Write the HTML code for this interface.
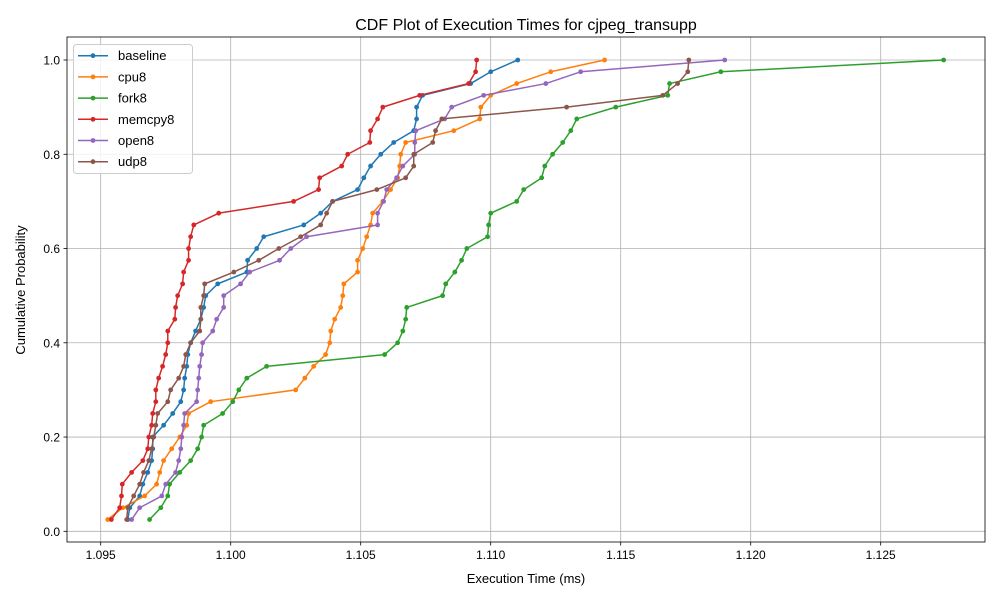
<!DOCTYPE html>
<html><head><meta charset="utf-8"><style>
body{margin:0;background:#fff}
svg{font-family:"Liberation Sans","DejaVu Sans",sans-serif}
</style></head><body>
<svg id="chart" width="1000" height="600" viewBox="0 0 1000 600">
<rect width="1000" height="600" fill="#fff"/>
<text x="526" y="30" text-anchor="middle" font-size="16" fill="#000">CDF Plot of Execution Times for cjpeg_transupp</text>
<text x="526" y="583" text-anchor="middle" font-size="13" fill="#000">Execution Time (ms)</text>
<text x="25" y="290" text-anchor="middle" font-size="13" fill="#000" transform="rotate(-90 25 290)">Cumulative Probability</text>
<g id="grid"></g><g id="series"></g><g id="axes"></g><g id="legend"></g>
</svg>
<script>
const seriesNames = ["baseline","cpu8","fork8","memcpy8","open8","udp8"];
const seriesColors = ["#1f77b4","#ff7f0e","#2ca02c","#d62728","#9467bd","#8c564b"];
const probs = [0.025,0.05,0.075,0.1,0.125,0.15,0.175,0.2,0.225,0.25,0.275,0.3,0.325,0.35,0.375,0.4,0.425,0.45,0.475,0.5,0.525,0.55,0.575,0.6,0.625,0.65,0.675,0.7,0.725,0.75,0.775,0.8,0.825,0.85,0.875,0.9,0.925,0.95,0.975,1.0];
const baseline = [1.09604,1.09612,1.09650,1.09662,1.09681,1.09696,1.09700,1.09700,1.09742,1.09777,1.09808,1.09819,1.09823,1.09831,1.09835,1.09846,1.09865,1.09885,1.09896,1.09904,1.09950,1.10062,1.10065,1.10100,1.10127,1.10281,1.10346,1.10392,1.10488,1.10512,1.10538,1.10577,1.10627,1.10704,1.10715,1.10715,1.10738,1.10923,1.11000,1.11104];
const cpu8 = [1.09527,1.09585,1.09669,1.09715,1.09727,1.09742,1.09773,1.09804,1.09831,1.09838,1.09923,1.10250,1.10285,1.10319,1.10365,1.10381,1.10385,1.10400,1.10423,1.10431,1.10435,1.10488,1.10488,1.10508,1.10523,1.10538,1.10546,1.10585,1.10615,1.10642,1.10650,1.10654,1.10673,1.10858,1.10958,1.10962,1.11000,1.11100,1.11231,1.11438];
const fork8 = [1.09688,1.09731,1.09758,1.09765,1.09804,1.09846,1.09873,1.09888,1.09896,1.09969,1.10008,1.10031,1.10062,1.10138,1.10592,1.10642,1.10662,1.10673,1.10677,1.10815,1.10827,1.10862,1.10888,1.10908,1.10988,1.10992,1.11000,1.11100,1.11127,1.11196,1.11208,1.11238,1.11277,1.11308,1.11331,1.11481,1.11681,1.11688,1.11885,1.12742];
const memcpy8 = [1.09541,1.09573,1.09580,1.09583,1.09619,1.09662,1.09681,1.09685,1.09696,1.09700,1.09712,1.09712,1.09723,1.09738,1.09750,1.09758,1.09758,1.09785,1.09788,1.09796,1.09815,1.09819,1.09838,1.09838,1.09846,1.09858,1.09954,1.10242,1.10338,1.10342,1.10427,1.10450,1.10535,1.10538,1.10565,1.10585,1.10727,1.10915,1.10942,1.10946];
const open8 = [1.09619,1.09650,1.09735,1.09750,1.09788,1.09800,1.09808,1.09812,1.09819,1.09823,1.09869,1.09873,1.09877,1.09881,1.09888,1.09892,1.09931,1.09946,1.09973,1.09973,1.10038,1.10073,1.10188,1.10231,1.10292,1.10565,1.10565,1.10588,1.10600,1.10638,1.10662,1.10708,1.10708,1.10712,1.10823,1.10850,1.10973,1.11212,1.11346,1.11900];
const udp8 = [1.09600,1.09604,1.09627,1.09650,1.09665,1.09685,1.09696,1.09704,1.09712,1.09719,1.09758,1.09769,1.09800,1.09819,1.09827,1.09846,1.09881,1.09885,1.09885,1.09896,1.09900,1.10012,1.10108,1.10185,1.10269,1.10346,1.10369,1.10392,1.10562,1.10673,1.10704,1.10704,1.10777,1.10788,1.10812,1.11292,1.11662,1.11719,1.11758,1.11762];
const xTicks = ["1.095","1.100","1.105","1.110","1.115","1.120","1.125"];
const yTicks = ["0.0","0.2","0.4","0.6","0.8","1.0"];
const allSeries = [baseline,cpu8,fork8,memcpy8,open8,udp8];

const NS = "http://www.w3.org/2000/svg";
const L=67,R=985,T=37,B=542;
function xs(v){return 100.7+(v-1.095)*26000;}
function ys(p){return 531.3-p*471.3;}
function mk(tag,attrs,parent){const e=document.createElementNS(NS,tag);for(const k in attrs)e.setAttribute(k,attrs[k]);parent.appendChild(e);return e;}
const grid=document.getElementById('grid'),axes=document.getElementById('axes'),ser=document.getElementById('series'),leg=document.getElementById('legend');
xTicks.forEach(t=>{const x=xs(parseFloat(t));
 const g=mk('line',{x1:x,x2:x,y1:T,y2:B,stroke:'#b0b0b0','stroke-width':0.8},grid);
 
 
 const tk=mk('line',{x1:x,x2:x,y1:B,y2:B+3.5,stroke:'#000','stroke-width':0.8},axes);
 
 
 const tx=mk('text',{x:x,y:B+17,'text-anchor':'middle','font-size':12},axes);tx.textContent=t;
 
 
});
yTicks.forEach(t=>{const y=ys(parseFloat(t));
 const g=mk('line',{x1:L,x2:R,y1:y,y2:y,stroke:'#b0b0b0','stroke-width':0.8},grid);
 
 
 const tk=mk('line',{x1:L-3.5,x2:L,y1:y,y2:y,stroke:'#000','stroke-width':0.8},axes);
 
 
 const tx=mk('text',{x:L-7,y:y+4.5,'text-anchor':'end','font-size':12},axes);tx.textContent=t;
 
 
});
const frame=mk('rect',{x:L,y:T,width:R-L,height:B-T,fill:'none',stroke:'#000','stroke-width':0.8},axes);


allSeries.forEach((vals,si)=>{const c=seriesColors[si];
 const g=mk('g',{},ser);
 
 
 const pts=vals.map((v,i)=>xs(v).toFixed(2)+','+ys(probs[i]).toFixed(2)).join(' ');
 const pl=mk('polyline',{points:pts,fill:'none',stroke:c,'stroke-width':1.5,'stroke-linejoin':'round'},g);
 
 
 vals.forEach((v,i)=>{const m=mk('circle',{cx:xs(v),cy:ys(probs[i]),r:2.4,fill:c},g);
  
  
 });
});
const lb=mk('rect',{x:73.5,y:44.5,width:119,height:129,rx:3,fill:'#fff','fill-opacity':0.8,stroke:'#cccccc','stroke-width':1},leg);


seriesNames.forEach((n,i)=>{const y=55.7+i*21.2;
 const g=mk('g',{},leg);
 
 
 mk('line',{x1:78,x2:108,y1:y,y2:y,stroke:seriesColors[i],'stroke-width':1.5},g);
 mk('circle',{cx:93,cy:y,r:2.4,fill:seriesColors[i]},g);
 const t=mk('text',{x:118,y:y+4.5,'font-size':13},g);t.textContent=n;
});
</script>
</body></html>
